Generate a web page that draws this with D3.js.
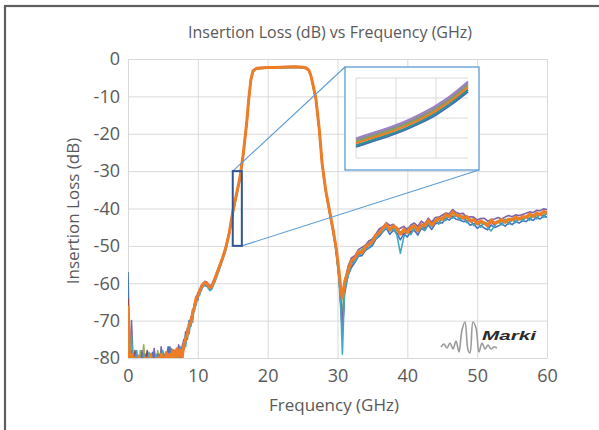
<!DOCTYPE html>
<html>
<head>
<meta charset="utf-8">
<script src="https://cdn.jsdelivr.net/npm/d3@7"></script>
<style>
  body { margin: 0; background: #fff; }
  svg { display: block; }
  text { font-family: "Open Sans", sans-serif; fill: #595959; }
</style>
</head>
<body>
<script>
// Frequency grid (GHz), shared by all traces
const freq = [
  0,0.25,0.5,0.75,1,1.25,1.5,1.75,2,2.25,2.5,2.75,3,3.25,3.5,3.75,4,4.25,4.5,4.75,5,5.25,5.5,5.75,6,6.25,6.5,6.75,7,7.25,7.5,
  7.75,8,8.25,8.5,8.75,9,9.25,9.5,9.75,10,10.25,10.5,10.75,11,11.25,11.5,11.75,12,12.5,13,13.5,14,
  14.5,15,15.5,16,16.5,17,17.3,17.6,17.9,18.4,
  19,20,21,22,23,24,25,25.5,
  25.9,26.2,26.5,26.9,27.4,27.8,28.3,28.8,29.4,29.8,30.2,30.5,30.7,
  31,31.5,32,32.5,33,33.5,34,34.5,35,35.5,36,36.5,37,37.5,38,38.5,39,39.5,40,40.5,
  41,41.5,42,42.5,43,43.5,44,44.5,45,45.5,46,46.5,47,47.5,48,48.5,49,49.5,50,50.5,
  51,51.5,52,52.5,53,53.5,54,54.5,55,55.5,56,56.5,57,57.5,58,58.5,59,59.5,60
];

// Insertion loss (dB), one array per measured unit
const lossBlue = [
  -57,-81,-78,-84,-82,-79,-83,-80,-84,-81,-79,-83,-80,-84,-78.5,-82,-80,-83,-79,-82,-80,-83,-80,-77,-81,-78,-82,-79,-81,-78,-80,
  -78.5,-77.5,-73,-75,-70,-71.5,-67,-67.5,-63.5,-64.5,-61.5,-62,-60,-60.5,-60.8,-61,-61.8,-61.2,-59,-56.5,-53.8,-50.8,
  -46.8,-41.3,-36.8,-32.3,-25.8,-17.3,-10.7,-5.6,-3.3,-2.6,
  -2.5,-2.4,-2.35,-2.3,-2.25,-2.2,-2.3,-2.5,
  -3.1,-4.6,-7.2,-10.8,-19.3,-28.3,-35.3,-40.4,-46.5,-51.2,-58,-66,-73,
  -63,-58,-55.8,-54.4,-52.8,-52.6,-51.2,-50.6,-49.9,-48.2,
  -47.4,-46.2,-45.3,-46.9,-45.8,-46.6,-48.4,-46.8,-47.6,-46.2,
  -45.8,-47.1,-45.3,-45.9,-44.4,-45.6,-44.1,-43.8,-43.9,-42.7,
  -43.1,-42.1,-42.9,-43.1,-43.5,-43.4,-44.5,-44.1,-45.3,-44.6,
  -45.2,-45.7,-44.4,-45.1,-44.7,-44.1,-44.7,-43.9,-44.3,-43.5,
  -43.9,-43.3,-43.5,-42.7,-43.2,-42.4,-42.8,-42.1,-42.3
];
const lossRed = [
  -64,-84,-80,-82,-78,-83,-81,-84,-79,-83,-81,-78,-83,-80,-82,-84,-79.5,-84,-81,-80,-84,-79,-82,-80,-83,-79,-81,-83,-79,-82,-79.5,
  -80.5,-77,-75.5,-73,-72,-69.5,-69,-65.8,-65.2,-62.6,-62.6,-61.2,-60.4,-60.2,-60.6,-61,-61.4,-61.2,-58.6,-56.4,-53.4,-50.7,
  -46.7,-41.2,-36.7,-32.2,-25.7,-17.2,-10.6,-5.6,-3.3,-2.6,
  -2.45,-2.35,-2.3,-2.25,-2.2,-2.15,-2.25,-2.45,
  -3.1,-4.6,-7.1,-10.7,-19.2,-28.2,-35.2,-40.3,-46.3,-51,-57.8,-66.5,-74,
  -61.5,-57,-55.2,-52.8,-52.4,-51,-51.2,-49.2,-49,-47,
  -46.6,-45.2,-45,-45.8,-45.2,-46.8,-46.4,-47,-46,-46.4,
  -45.2,-45.8,-44.6,-45.4,-43.8,-44.6,-43.2,-44,-42.4,-43.2,
  -41.6,-42.4,-41.8,-42.8,-42.2,-43.6,-43,-44.4,-43.6,-44.8,
  -43.8,-44.8,-43.6,-44.4,-43.4,-44.2,-43,-44,-42.8,-43.6,
  -42.6,-43.2,-42.2,-43,-41.8,-42.6,-41.4,-42.2,-41.1
];
const lossGreen = [
  -83,-80,-82,-79,-83,-81,-84,-78,-82,-76.5,-83,-80,-84,-79,-82,-80,-83,-78,-81,-83,-79,-82,-80,-84,-78.5,-82,-79,-81,-78,-80,-77.5,
  -78,-76,-74,-74.5,-71.5,-70,-68.5,-66,-64.8,-63,-62.4,-60.8,-60.6,-60,-60.2,-60.8,-61.4,-61,-58.8,-56.2,-53.6,-50.6,
  -46.6,-41.1,-36.6,-32.1,-25.6,-17.1,-10.6,-5.5,-3.2,-2.5,
  -2.4,-2.3,-2.25,-2.2,-2.15,-2.1,-2.2,-2.4,
  -3.0,-4.5,-7.1,-10.6,-19.1,-28.1,-35.1,-40.1,-46.1,-50.8,-57.5,-64,-70,
  -59,-56.8,-54,-53,-51.6,-51,-50.2,-49.4,-48,-47.2,
  -45.8,-45.4,-44.2,-45.2,-45,-46,-46.2,-46.4,-45.2,-45.8,
  -45,-45.2,-44.4,-44.6,-43.8,-43.8,-43,-43.2,-42.4,-42.4,
  -41.6,-41.8,-41.6,-42,-42,-42.8,-42.8,-43.4,-43.4,-44,
  -43.6,-44,-43.4,-43.8,-43.2,-43.6,-42.9,-43.3,-42.6,-43,
  -42.4,-42.7,-42,-42.4,-41.6,-42,-41.2,-41.6,-40.9
];
const lossPurple = [
  -80,-83,-70,-82,-79,-84,-80,-83,-78,-82,-80,-84,-79,-81,-84,-77.5,-82,-79,-83,-77,-81,-84,-79,-82,-77,-80,-83,-78,-80,-76.5,-79,
  -77,-75,-76,-72,-72.5,-69,-69.5,-65.5,-65,-62.5,-62.8,-60.5,-60.8,-59.5,-59.6,-60.2,-60.6,-60.4,-58.2,-55.6,-53.2,-50.2,
  -46.2,-40.7,-36.2,-31.7,-25.2,-16.8,-10.3,-5.4,-3.1,-2.4,
  -2.3,-2.2,-2.15,-2.1,-2.05,-2.0,-2.1,-2.3,
  -2.9,-4.4,-6.8,-10.3,-18.8,-27.8,-34.8,-39.7,-45.7,-50.3,-57,-65,-72,
  -60.5,-55.5,-53.2,-52.6,-51,-50.4,-49.8,-48.6,-48.2,-46.8,
  -45.4,-44.9,-43.8,-44.6,-44.2,-45.6,-45.3,-44.8,-45.7,-44.4,
  -43.9,-44.8,-43.4,-44.1,-42.6,-43.7,-42.4,-42.3,-41.8,-41.2,
  -41.4,-40.3,-41.1,-41.4,-41.3,-42.4,-42.2,-42.3,-43.1,-42.7,
  -42.6,-43.4,-42.9,-42.8,-42.4,-42.8,-42.3,-41.9,-42.2,-41.7,
  -41.9,-41.6,-41.3,-40.9,-41.1,-40.5,-40.6,-40.1,-40.3
];
const lossCyan = [
  -82,-79,-74,-81,-84,-78,-82,-80,-83,-79,-84,-81,-78.5,-83,-80,-84,-79,-82,-80,-84,-78,-81,-83,-79,-82,-77.5,-80,-82,-78,-81,-77,
  -79.5,-76,-77,-73,-73.5,-70,-70.5,-66,-66,-63,-63.2,-61.4,-61,-60.6,-60.4,-61.4,-62,-61.6,-59.4,-56.8,-54,-51.2,
  -47,-41.5,-37,-32.5,-26,-17.5,-10.9,-5.7,-3.4,-2.6,
  -2.5,-2.45,-2.4,-2.35,-2.3,-2.25,-2.35,-2.55,
  -3.2,-4.7,-7.3,-11,-19.5,-28.5,-35.5,-40.6,-46.8,-51.6,-59,-68,-79,
  -62,-58,-55,-54,-52.6,-52,-51,-50.4,-49,-48,
  -46.8,-46.2,-45,-46,-45.4,-47,-52,-47.6,-46,-47,
  -45.2,-46.2,-44.6,-45.8,-44,-44.8,-43.2,-44.2,-42.6,-43.2,
  -41.6,-42.6,-41.8,-43,-42.4,-43.8,-43,-44.6,-43.6,-45,
  -43.8,-45,-46,-44.6,-43.4,-44.4,-43,-44.2,-42.8,-43.8,
  -42.6,-43.4,-42.2,-43.2,-41.8,-42.8,-41.4,-42.4,-41.2
];
const lossOrange = [
  -66,-82,-79,-83,-80,-84,-79.5,-82,-81,-83,-80,-84,-82,-79,-83,-81,-84,-80,-82,-79,-83,-81,-78.5,-82,-79,-81,-78,-80,-77.5,-79.5,-78,
  -80,-76.5,-75,-73.5,-71,-70.5,-68,-66.5,-64,-63.5,-62,-61,-60.2,-59.8,-60,-60.6,-61.2,-60.8,-58.5,-56,-53.5,-50.5,
  -46.5,-41,-36.5,-32,-25.5,-17,-10.5,-5.5,-3.2,-2.5,
  -2.4,-2.3,-2.25,-2.2,-2.15,-2.1,-2.2,-2.4,
  -3.0,-4.5,-7,-10.5,-19,-28,-35,-40,-46,-50.5,-56.5,-62,-64,
  -60,-56.5,-54,-53.2,-51.6,-51.9,-50.2,-49.6,-48.9,-47.1,
  -46.5,-45.2,-44.2,-45.8,-44.6,-45.2,-46.9,-45.6,-46.4,-45.1,
  -44.6,-46,-44.3,-44.6,-43.2,-44.5,-43.4,-42.6,-42.9,-41.6,
  -42.2,-40.9,-41.8,-41.9,-42.6,-42.1,-43.4,-42.9,-44.1,-43.3,
  -43.9,-44.6,-43.1,-43.9,-43.6,-42.9,-43.7,-42.8,-43.1,-42.3,
  -42.9,-42.1,-42.4,-41.5,-42.1,-41.2,-41.7,-40.8,-41.2
];

// Zoomed inset (15 - 16.4 GHz)
const insetFreq = [15.0, 15.2, 15.4, 15.6, 15.8, 16.0, 16.2, 16.4];
const insetBlue   = [-47.2, -45.9, -44.6, -43.1, -41.3, -39.2, -36.5, -33.4];
const insetTeal   = [-46.8, -45.5, -44.2, -42.7, -40.9, -38.7, -36.0, -32.9];
const insetGreen  = [-45.9, -44.6, -43.3, -41.8, -40.0, -37.8, -35.1, -31.9];
const insetGray   = [-45.5, -44.2, -42.9, -41.4, -39.6, -37.4, -34.7, -31.4];
const insetPurple = [-45.1, -43.8, -42.5, -41.0, -39.1, -36.9, -34.2, -30.9];
const insetOrange = [-46.3, -45.0, -43.7, -42.2, -40.4, -38.2, -35.5, -32.3];

// Tick values
const xTicks = [0, 10, 20, 30, 40, 50, 60];
const yTicks = [0, -10, -20, -30, -40, -50, -60, -70, -80];
const insetXTicks = [15, 15.5, 16];
const insetYTicks = [-50, -45, -40, -35, -30];

// Zoom window marked on the main plot
const zoomWindow = { f0: 15, f1: 16.3, db0: -50, db1: -30 };

const mainSeries = [
  { values: lossBlue,   color: '#4472c4' },
  { values: lossRed,    color: '#a5403d' },
  { values: lossGreen,  color: '#8cb356' },
  { values: lossPurple, color: '#7f63a8' },
  { values: lossCyan,   color: '#3fa9c5' },
  { values: lossOrange, color: '#ee7d26', width: 3 }
];
const insetSeries = [
  { values: insetBlue,   color: '#3f6fb5' },
  { values: insetTeal,   color: '#2f8f95' },
  { values: insetGreen,  color: '#7fa84f' },
  { values: insetGray,   color: '#8c8c8c' },
  { values: insetPurple, color: '#9a82c4' },
  { values: insetOrange, color: '#ee7d26' }
];

mainSeries.forEach(s => {
  if (s.values.length !== freq.length) throw new Error('length mismatch ' + s.color + ' ' + s.values.length + ' vs ' + freq.length);
});

const width = 599, height = 430;

const svg = d3.select('body').append('svg')
  .attr('width', width)
  .attr('height', height);

svg.append('rect').attr('width', width).attr('height', height).attr('fill', '#fff');

// outer frame (runs off the right and bottom edge)
svg.append('rect')
  .attr('x', 5).attr('y', 6).attr('width', 700).attr('height', 500)
  .attr('fill', 'none').attr('stroke', '#5f5f5f').attr('stroke-width', 2.2);

const x = d3.scaleLinear().domain([0, 60]).range([128, 547]);
const y = d3.scaleLinear().domain([-80, 0]).range([358, 59]);

// axes + gridlines (plain hyphen for negatives, like the source)
const fmt = d => String(d);
const xAxis = svg.append('g')
  .attr('transform', `translate(0,${y(-80)})`)
  .call(d3.axisBottom(x).tickValues(xTicks).tickFormat(fmt)
    .tickSize(-(y(-80) - y(0))).tickPadding(11));
const yAxis = svg.append('g')
  .attr('transform', `translate(${x(0)},0)`)
  .call(d3.axisLeft(y).tickValues(yTicks).tickFormat(fmt)
    .tickSize(-(x(60) - x(0))).tickPadding(8));

[xAxis, yAxis].forEach(a => {
  a.select('.domain').remove();
  a.selectAll('.tick line').attr('stroke', '#d9d9d9').attr('stroke-width', 1);
  a.selectAll('.tick text').attr('font-size', 18).attr('fill', '#595959')
    .style('font-family', '"Open Sans", sans-serif');
});

// titles
svg.append('text')
  .attr('x', 330).attr('y', 38)
  .attr('text-anchor', 'middle')
  .attr('font-size', 16)
  .text('Insertion Loss (dB) vs Frequency (GHz)');

svg.append('text')
  .attr('transform', 'translate(79,211) rotate(-90)')
  .attr('text-anchor', 'middle')
  .attr('font-size', 17)
  .text('Insertion Loss (dB)');

svg.append('text')
  .attr('x', 334).attr('y', 411)
  .attr('text-anchor', 'middle')
  .attr('font-size', 17)
  .text('Frequency (GHz)');

// Marki logo
const logoWave = [[0,25],[3,22],[6,26],[9,21],[12,27],[15,19],[18,30],[21,8],[24,0],[27,28],[29,31],[32,0],[35,6],[38,30],[41,21],[44,27],[47,23],[50,27],[53,25],[56,26]];
const logo = svg.append('g').attr('transform', 'translate(441,322)');
logo.append('path')
  .attr('d', d3.line().curve(d3.curveCatmullRom)(logoWave))
  .attr('fill', 'none').attr('stroke', '#9a9a9a').attr('stroke-width', 1.6);
logo.append('text')
  .attr('x', 41).attr('y', 18)
  .attr('textLength', 54).attr('lengthAdjust', 'spacingAndGlyphs')
  .attr('font-size', 13.5).attr('font-weight', 'bold').attr('font-style', 'italic')
  .style('font-family', '"Liberation Sans", Arial, sans-serif')
  .style('fill', '#2b2b2b')
  .text('Marki');

// measured traces
svg.append('clipPath').attr('id', 'plotClip')
  .append('rect')
  .attr('x', x(0)).attr('y', y(0) - 2)
  .attr('width', x(60) - x(0)).attr('height', y(-80) - y(0) + 2);

const line = d3.line()
  .x((d, i) => x(freq[i]))
  .y(d => y(d));

const traces = svg.append('g').attr('clip-path', 'url(#plotClip)');
traces.selectAll('path')
  .data(mainSeries)
  .enter()
  .append('path')
  .attr('d', d => line(d.values))
  .attr('fill', 'none')
  .attr('stroke', d => d.color)
  .attr('stroke-width', d => d.width || 1.6)
  .attr('stroke-linejoin', 'round');

// zoom window + connectors
const boxX0 = 345, boxY0 = 67, boxX1 = 479, boxY1 = 170;
svg.append('line')
  .attr('x1', x(zoomWindow.f0)).attr('y1', y(zoomWindow.db1))
  .attr('x2', boxX0).attr('y2', boxY0)
  .attr('stroke', '#5b9bd5').attr('stroke-width', 1.1);
svg.append('line')
  .attr('x1', x(zoomWindow.f1)).attr('y1', y(zoomWindow.db0))
  .attr('x2', boxX1).attr('y2', boxY1)
  .attr('stroke', '#5b9bd5').attr('stroke-width', 1.1);
svg.append('rect')
  .attr('x', x(zoomWindow.f0)).attr('y', y(zoomWindow.db1))
  .attr('width', x(zoomWindow.f1) - x(zoomWindow.f0))
  .attr('height', y(zoomWindow.db0) - y(zoomWindow.db1))
  .attr('fill', 'none').attr('stroke', '#2f5597').attr('stroke-width', 2);

// inset
svg.append('rect')
  .attr('x', boxX0).attr('y', boxY0)
  .attr('width', boxX1 - boxX0).attr('height', boxY1 - boxY0)
  .attr('fill', '#fff').attr('stroke', '#5b9bd5').attr('stroke-width', 1.3);

const xi = d3.scaleLinear().domain([15, 16.4]).range([356, 468]);
const yi = d3.scaleLinear().domain([-50, -30]).range([158, 78]);

const inset = svg.append('g');
inset.selectAll('.vgrid')
  .data(insetXTicks)
  .enter().append('line')
  .attr('x1', d => xi(d)).attr('x2', d => xi(d))
  .attr('y1', yi(-30)).attr('y2', yi(-50))
  .attr('stroke', '#d9d9d9');
inset.selectAll('.hgrid')
  .data(insetYTicks)
  .enter().append('line')
  .attr('x1', xi(15)).attr('x2', xi(16.4))
  .attr('y1', d => yi(d)).attr('y2', d => yi(d))
  .attr('stroke', '#d9d9d9');

const insetLine = d3.line()
  .curve(d3.curveMonotoneX)
  .x((d, i) => xi(insetFreq[i]))
  .y(d => yi(d));

inset.selectAll('.trace')
  .data(insetSeries)
  .enter().append('path')
  .attr('d', d => insetLine(d.values))
  .attr('fill', 'none')
  .attr('stroke', d => d.color)
  .attr('stroke-width', 2);
</script>
</body>
</html>
